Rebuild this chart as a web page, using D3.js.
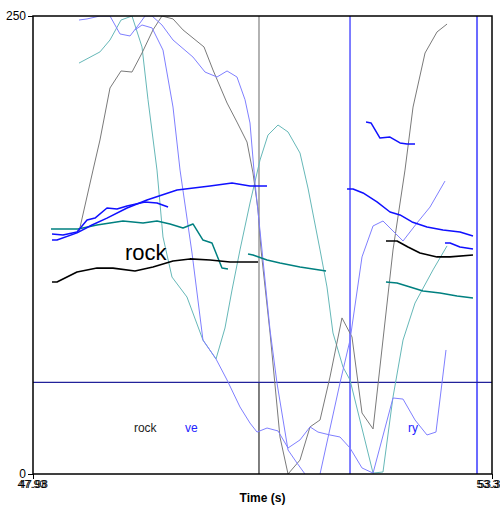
<!DOCTYPE html>
<html><head><meta charset="utf-8">
<script src="https://cdn.jsdelivr.net/npm/d3@7"></script>
<style>body{margin:0;background:#fff}svg{display:block;font-family:"Liberation Sans",Arial,sans-serif}</style>
</head><body><svg id="c" width="500" height="506"></svg>
<script>
// ---- data (time in s, value) ----
const xDomain = [47.98, 53.34];
const yDomain = [0, 250];
const yTicks = [0, 250];
const xTicks = [47.98, 53.34];
const xTickLabels = ["47.98", "53.34"];
const xTickLabelsAlt = ["47.93", "53.31"];

const black1 = [[48.202,104.8],[48.260,104.8],[48.494,110.3],[48.727,112.4],[48.914,112.4],[49.171,110.8],[49.381,113.0],[49.615,116.3],[49.813,117.4],[50.047,116.8],[50.281,115.7],[50.514,115.7],[50.608,115.7]];
const black2 = [[52.102,127.2],[52.231,127.2],[52.359,123.9],[52.499,120.6],[52.698,118.5],[52.850,118.5],[53.118,119.5]];

const teal1 = [[48.190,133.7],[48.330,133.7],[48.506,133.7],[48.727,135.9],[49.031,138.1],[49.265,137.0],[49.428,138.1],[49.580,136.5],[49.732,134.3],[49.848,136.5],[49.965,127.7],[50.070,126.1],[50.187,112.4],[50.257,111.9]];
const teal2 = [[50.491,120.1],[50.549,119.5],[50.713,116.8],[50.864,115.2],[51.098,113.0],[51.402,110.8]];
const teal3 = [[52.102,104.8],[52.231,104.3],[52.383,102.1],[52.534,99.9],[52.733,98.8],[52.932,97.2],[53.118,96.1]];

const blue1 = [[48.202,127.7],[48.260,127.7],[48.494,131.6],[48.669,135.9],[48.844,139.7],[49.078,145.2],[49.311,149.6],[49.662,155.0],[50.047,157.2],[50.304,158.8],[50.514,157.2],[50.713,157.2]];
const blue2 = [[48.202,131.0],[48.330,130.5],[48.494,132.1],[48.611,138.6],[48.704,139.7],[48.844,145.2],[48.961,144.7],[49.078,146.3],[49.288,148.5],[49.428,147.9],[49.557,145.7]];
const blue3 = [[51.647,155.6],[51.717,155.6],[51.834,153.4],[51.997,148.5],[52.149,143.0],[52.266,141.4],[52.406,137.6],[52.581,134.8],[52.768,133.2],[52.966,132.1],[53.118,129.9]];
const blue4 = [[52.791,126.1],[52.850,126.1],[52.966,123.9],[53.118,122.8]];
const blue5 = [[51.869,192.1],[51.927,191.6],[52.032,183.4],[52.149,183.9],[52.266,180.7],[52.348,180.1],[52.441,180.1]];

const lightBlueA = [[48.517,247.8],[48.611,248.4],[48.762,250],[48.879,250],[48.996,240.2],[49.113,239.1],[49.230,246.2],[49.288,250],[49.370,250],[49.486,245.1],[49.615,236.9],[49.848,227.6],[49.989,219.4],[50.129,216.7],[50.246,220.0],[50.362,216.7],[50.456,204.3],[50.514,191.6],[50.573,158.8],[50.654,122.3],[50.748,78.6],[50.829,49.7],[50.958,13.1],[51.063,6.0],[51.156,0]];
const lightBlueB = [[49.171,242.4],[49.253,245.1],[49.370,243.5],[49.498,231.4],[49.615,200.3],[49.697,165.9],[49.837,120.6],[49.965,73.1],[50.117,62.8],[50.246,51.3],[50.397,36.6],[50.514,27.8],[50.596,22.9],[50.713,25.1],[50.841,23.5],[50.958,14.2],[51.098,18.6],[51.215,25.7],[51.308,22.9],[51.448,21.3],[51.565,20.2],[51.682,14.2],[51.822,3.3],[51.951,0.5],[52.184,41.5],[52.301,40.9],[52.441,29.5],[52.581,21.3],[52.686,22.9],[52.803,67.7]];
const lightBlueC = [[51.332,0],[51.565,49.7],[51.682,73.1],[51.822,118.5],[51.951,135.4],[52.067,138.1],[52.301,127.2],[52.464,137.0],[52.616,145.7],[52.791,159.9]];

const gray1 = [[48.517,132.1],[48.681,165.9],[48.762,182.3],[48.879,210.7],[49.008,220.0],[49.136,219.4],[49.253,229.8],[49.381,242.4],[49.486,250],[49.615,248.4],[49.732,242.4],[49.977,233.1],[50.082,220.5],[50.246,202.5],[50.362,192.1],[50.479,181.2],[50.549,164.3],[50.608,144.1],[50.643,122.3],[50.748,77.0],[50.864,20.2],[50.958,0],[51.098,7.6],[51.215,25.7],[51.332,29.5],[51.448,52.9],[51.588,85.2],[51.705,74.8],[51.822,33.3],[51.951,24.6],[52.184,122.3],[52.324,165.9],[52.418,200.3],[52.558,229.8],[52.698,241.3],[52.815,245.6]];

const lightTeal1 = [[48.517,224.3],[48.762,230.4],[48.879,236.9],[49.008,247.8],[49.136,250],[49.253,233.1],[49.323,204.3],[49.428,165.9],[49.498,129.4],[49.603,107.5],[49.778,96.6],[49.965,73.1],[50.117,62.8],[50.222,79.7],[50.304,100.4],[50.397,122.3],[50.514,147.9],[50.631,171.4],[50.724,185.0],[50.841,190.5],[50.958,186.7],[51.098,175.2],[51.191,156.1],[51.332,122.3],[51.413,102.1],[51.483,77.0],[51.600,58.4],[51.682,51.3],[51.951,0.5],[52.067,1.1],[52.184,42.0],[52.301,73.1],[52.441,93.3],[52.651,111.4],[52.815,124.5]];

const boundaryGray = [50.619];
const boundaryBlue = [51.682];
const boundaryBlueRight = [53.165];
const tierLine = [50];

const labelsBig = [{t:49.054, v:116.8, text:"rock"}];
const labelsSmall = [{t:49.159, v:22.9, text:"rock", c:"#222"},{t:49.755, v:22.9, text:"ve", c:"#2222ff"},{t:52.359, v:22.9, text:"ry", c:"#2222ff"}];

// ---- drawing ----
const svg = d3.select("#c");
const L=33, R=492, T=16, B=474;
const x = d3.scaleLinear().domain(xDomain).range([L,R]);
const y = d3.scaleLinear().domain(yDomain).range([B,T]);

svg.append("defs").append("clipPath").attr("id","clip")
  .append("rect").attr("x",L).attr("y",T).attr("width",R-L).attr("height",B-T);
const g = svg.append("g").attr("clip-path","url(#clip)");
const line = d3.line().x(d=>x(d[0])).y(d=>y(d[1]));

function draw(data, color, w){
  g.append("path").datum(data).attr("d",line).attr("fill","none")
   .attr("stroke",color).attr("stroke-width",w).attr("stroke-linejoin","round");
}
// boundaries
boundaryGray.forEach(t=>{
  g.append("line").attr("x1",x(t)).attr("x2",x(t)).attr("y1",T).attr("y2",y(tierLine[0])).attr("stroke","#a0a0a0").attr("stroke-width",1.6);
  g.append("line").attr("x1",x(t)).attr("x2",x(t)).attr("y1",y(tierLine[0])).attr("y2",B).attr("stroke","#000").attr("stroke-width",1);
});
boundaryBlue.forEach(t=>g.append("line").attr("x1",x(t)).attr("x2",x(t)).attr("y1",T).attr("y2",B).attr("stroke","#3a3aff").attr("stroke-width",1.3));
boundaryBlueRight.forEach(t=>g.append("line").attr("x1",x(t)).attr("x2",x(t)).attr("y1",T).attr("y2",B).attr("stroke","#6a6aff").attr("stroke-width",2));
tierLine.forEach(v=>g.append("line").attr("x1",L).attr("x2",R).attr("y1",y(v)).attr("y2",y(v)).attr("stroke","#22229a").attr("stroke-width",1.4));

draw(lightTeal1, "#66b8b8", 1);
draw(gray1, "#7a7a7a", 1);
draw(lightBlueA, "#7f7fff", 1);
draw(lightBlueB, "#7f7fff", 1);
draw(lightBlueC, "#7f7fff", 1);
[teal1,teal2,teal3].forEach(d=>draw(d,"#008080",1.5));
[blue1,blue2,blue3,blue4,blue5].forEach(d=>draw(d,"#1010ff",1.5));
[black1,black2].forEach(d=>draw(d,"#000",1.6));

// frame
svg.append("rect").attr("x",L).attr("y",T).attr("width",R-L).attr("height",B-T)
  .attr("fill","none").attr("stroke","#000").attr("stroke-width",1.5);

// axes
const ya = svg.append("g").attr("transform",`translate(${L},0)`)
  .call(d3.axisLeft(y).tickValues(yTicks).tickSize(5).tickPadding(2).tickFormat(d3.format("d")));
ya.select(".domain").remove();
ya.selectAll("text").attr("font-size",12).attr("fill","#000").attr("font-family","Liberation Sans, Arial, sans-serif");

const xa = svg.append("g").attr("transform",`translate(0,${B})`)
  .call(d3.axisBottom(x).tickValues(xTicks).tickSize(5).tickPadding(1).tickFormat((d,i)=>xTickLabels[i]));
xa.select(".domain").remove();
xa.selectAll("text").attr("font-size",11.5).attr("fill","#000").attr("font-family","Liberation Sans, Arial, sans-serif");
xa.selectAll(".tick").append("text").text((d,i)=>xTickLabelsAlt[i])
  .attr("x",-1.5).attr("y",6).attr("dy","0.71em").attr("text-anchor","middle")
  .attr("font-size",11.5).attr("fill","#000").attr("font-family","Liberation Sans, Arial, sans-serif");

svg.append("text").attr("x",(L+R)/2).attr("y",502).attr("text-anchor","middle")
  .attr("font-weight","bold").attr("font-size",12).text("Time (s)");

// labels
labelsBig.forEach(l=>svg.append("text").attr("x",x(l.t)).attr("y",y(l.v)).attr("font-size",22).attr("fill","#000").text(l.text));
labelsSmall.forEach(l=>svg.append("text").attr("x",x(l.t)).attr("y",y(l.v)).attr("font-size",12).attr("fill",l.c).text(l.text));
</script></body></html>
